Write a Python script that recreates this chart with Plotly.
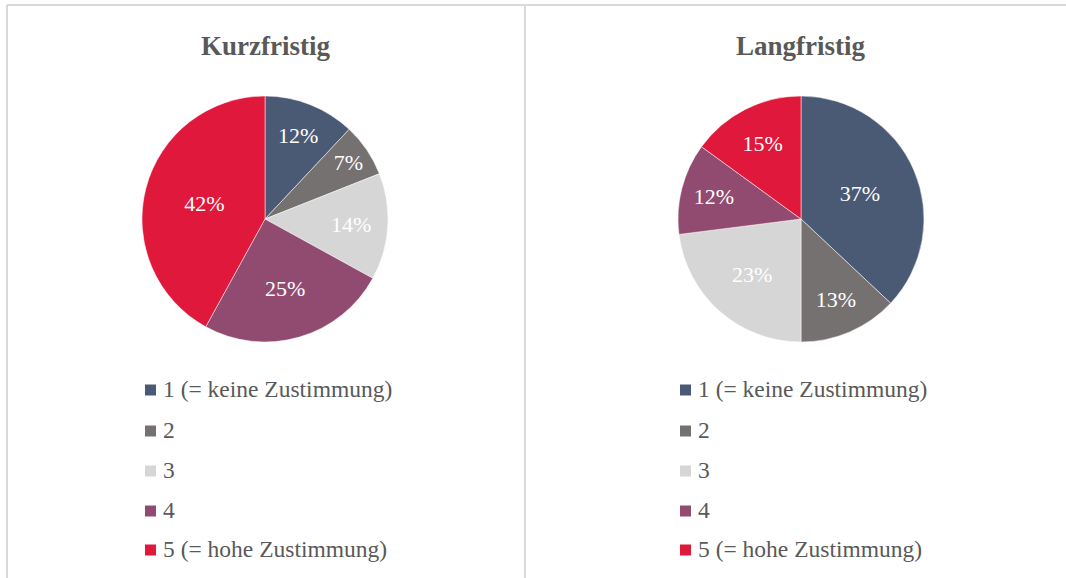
import plotly.graph_objects as go

W, H = 1066, 578

categories = ["1 (= keine Zustimmung)", "2", "3", "4", "5 (= hohe Zustimmung)"]
colors = ["#4a5a74", "#767171", "#d6d6d6", "#924b70", "#e0183c"]
titles = ["Kurzfristig", "Langfristig"]
values_short = [12, 7, 14, 25, 42]
values_long = [37, 13, 23, 12, 15]

FONT = "Liberation Serif"
TXT = "#595959"

def px(x):
    return x / W

def py(y):
    return 1 - y / H

fig = go.Figure()

centers = [265, 801]
R = 123
CY = 219
for vals, cx, name in zip([values_short, values_long], centers, titles):
    fig.add_trace(go.Pie(
        labels=categories, values=vals, name=name,
        sort=False, direction="clockwise", rotation=0,
        marker=dict(colors=colors, line=dict(color="white", width=0.5)),
        textinfo="percent", texttemplate="%{value}%",
        textposition="inside", insidetextorientation="horizontal",
        textfont=dict(family=FONT, size=22, color="white"),
        domain=dict(x=[px(cx - R), px(cx + R)], y=[py(CY + R), py(CY - R)]),
        showlegend=False, hoverinfo="label+percent",
    ))

shapes = [
    dict(type="line", xref="paper", yref="paper", x0=px(7), x1=1.01, y0=py(5), y1=py(5),
         line=dict(color="#d9d9d9", width=2)),
    dict(type="line", xref="paper", yref="paper", x0=px(7), x1=px(7), y0=py(5), y1=-0.01,
         line=dict(color="#d9d9d9", width=2)),
    dict(type="line", xref="paper", yref="paper", x0=px(525), x1=px(525), y0=py(5), y1=-0.01,
         line=dict(color="#d9d9d9", width=2)),
]
annotations = []
for cx, t in zip(centers, titles):
    annotations.append(dict(text="<b>" + t + "</b>", x=px(cx), y=py(46), xref="paper", yref="paper",
                            showarrow=False, xanchor="center", yanchor="middle",
                            font=dict(family=FONT, size=27, color=TXT)))

legend_x = [145, 680]
row_y = [390, 431, 471, 511, 550]
for lx in legend_x:
    for cat, col, ry in zip(categories, colors, row_y):
        shapes.append(dict(type="rect", xref="paper", yref="paper",
                           x0=px(lx), x1=px(lx + 11), y0=py(ry + 5.5), y1=py(ry - 5.5),
                           fillcolor=col, line=dict(width=0)))
        annotations.append(dict(text=cat, x=px(lx + 16), y=py(ry - 1), xref="paper", yref="paper",
                                showarrow=False, xanchor="left", yanchor="middle",
                                font=dict(family=FONT, size=23.5, color=TXT)))

fig.update_layout(
    width=W, height=H, margin=dict(l=0, r=0, t=0, b=0),
    paper_bgcolor="white", plot_bgcolor="white",
    shapes=shapes, annotations=annotations, showlegend=False,
)

fig.write_html("out.html")
